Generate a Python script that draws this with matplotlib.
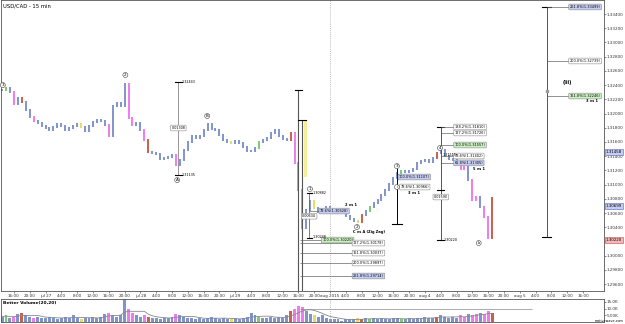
import matplotlib
matplotlib.use('Agg')
import matplotlib.pyplot as plt
import pandas as pd

matplotlib.rc('font', size=4)

# hourly bars, hours counted from the first day label
hours = list(range(-11, 114))
closes = [
    1.32331, 1.32359, 1.32303, 1.32134, 1.32218, 1.32162, 1.32049, 1.31951, 1.31895, 1.31866, 1.31824,
    1.31796, 1.31768, 1.31810, 1.31852, 1.31824, 1.31768, 1.31796, 1.31824, 1.31852, 1.31810, 1.31754,
    1.31824, 1.31880, 1.31909, 1.31895, 1.31838, 1.31683, 1.32106, 1.32148, 1.32106,
    1.32415, 1.31937, 1.31838, 1.31866,
    1.31768, 1.31627, 1.31458, 1.31444, 1.31430, 1.31360, 1.31374, 1.31388, 1.31416,
    1.31275, 1.31346, 1.31486, 1.31599, 1.31683, 1.31655, 1.31683, 1.31768,
    1.31852, 1.31782, 1.31768, 1.31698, 1.31627, 1.31599, 1.31585, 1.31613, 1.31585,
    1.31529, 1.31472, 1.31472, 1.31515, 1.31599, 1.31627, 1.31655, 1.31726, 1.31768,
    1.31683, 1.31641, 1.31627, 1.31726,
    1.31304, 1.30924, 1.30389, 1.30642,
    1.30769, 1.30670, 1.30614, 1.30656, 1.30685, 1.30642,
    1.30600, 1.30628, 1.30614, 1.30558, 1.30516, 1.30488, 1.30474, 1.30572,
    1.30628, 1.30685, 1.30741, 1.30783, 1.30853, 1.30924, 1.31008, 1.31093,
    1.31163, 1.31191, 1.31177, 1.31191, 1.31219, 1.31304, 1.31332, 1.31346, 1.31318, 1.31374, 1.31444, 1.31486,
    1.31402, 1.31360, 1.31346, 1.31304, 1.31219, 1.31247, 1.31064, 1.30783, 1.30825, 1.30685, 1.30544, 1.30248, 1.30811,
]
volume_k = [
    4, 5, 3, 4, 6, 7, 5, 4, 3, 4, 3,
    3, 4, 3, 2, 3, 4, 3, 5, 3, 2, 3,
    3, 4, 3, 4, 6, 7, 5, 4, 5,
    17, 10, 7, 5,
    4, 5, 4, 3, 3, 2, 3, 3, 4,
    6, 5, 4, 3, 3, 2, 3, 2,
    3, 4, 3, 2, 3, 2, 2, 3, 2,
    3, 4, 7, 5, 4, 3, 3, 4, 3,
    4, 3, 5, 8,
    10, 12, 11, 8,
    6, 5, 4, 5, 3, 2,
    2, 2, 1, 2, 2, 2, 3, 2, 3, 2, 3, 2, 3, 2, 2, 3,
    3, 2, 2, 3, 2, 3, 3, 4, 3, 3, 4, 5,
    4, 3, 4, 3, 5, 4, 6, 5, 6, 7, 6, 8, 7,
]
bar_codes = ("bgbpbrbbpbb" "bbbbbbbbbyb" "bbbbbpbbb" "bppb" "bprbbbbbb" "pbbbbbbb"
             "bbbbbbybb" "bbbbgbbbb" "bbbr" "pppb" "bybbbb" "bbbbbbyrbgbbbbbb"
             "bgbbbbbbbbrb" "bbbbppbppbppr")
palette = {'b': '#8094cc', 'p': '#f27af0', 'r': '#c8604c', 'g': '#7ccc6c', 'y': '#e6dc6a'}

day_labels = {0: 'jul 27', 24: 'jul 28', 48: 'jul 29', 72: 'aug 2015', 96: 'aug 4', 120: 'aug 5'}
price_ticks = [1.296 + 0.002 * i for i in range(20)]

fig = plt.figure(figsize=(6.25, 3.24), dpi=100)
ax = fig.add_axes([0.001, 1 - 291 / 324, 603 / 625, 291 / 324])
vax = fig.add_axes([0.001, 2 / 324, 603 / 625, 23 / 324])

# price bars
prev = closes[0]
for t, c, code in zip(hours, closes, bar_codes):
    lo, hi = min(prev, c) - 0.0002, max(prev, c) + 0.0002
    ax.vlines(t, lo, hi, colors=palette[code], lw=1.4)
    prev = c

ax.set_xlim(-11.36, 141.2)
ax.set_ylim(1.29503, 1.33597)
ax.yaxis.tick_right()
ax.set_yticks(price_ticks)
ax.set_yticklabels(['%.5f' % p for p in price_ticks])
xt = list(range(-8, 140, 4))
ax.set_xticks(xt)
ax.set_xticklabels([day_labels.get(t, '%d:00' % (t % 24)) for t in xt])
ax.tick_params(labelsize=3.0, length=1.2, width=0.4, pad=0.8, colors='#333333')
for s in ax.spines.values():
    s.set_linewidth(0.6)
    s.set_color('#555555')
ax.axvline(72, color='#aaaaaa', ls=(0, (1.5, 1.5)), lw=0.5)
ax.text(0.004, 0.988, 'USD/CAD - 15 min', transform=ax.transAxes, fontsize=3.8, va='top')

# helpers for the drawing tools
def cap(x, y, w=0.9):
    ax.plot([x - w, x + w], [y, y], color='k', lw=0.8)

def box(x, y, s, fc='white', ec='#888888'):
    ax.text(x, y, s, fontsize=2.5, va='center', ha='left',
            bbox=dict(boxstyle='round,pad=0.25', fc=fc, ec=ec, lw=0.4))

def circled(x, y, s, size=3.0):
    ax.text(x, y, s, fontsize=size, ha='center', va='center',
            bbox=dict(boxstyle='circle,pad=0.12', fc='white', ec='#444444', lw=0.4))

green, blue = '#c9f0c0', '#c6cdf2'

# A measurement
ax.vlines(33.6, 1.31135, 1.32443, color='#888888', lw=0.6)
cap(33.6, 1.32443); cap(33.6, 1.31135)
ax.text(34.3, 1.32443, '1.32443', fontsize=2.4, va='center')
ax.text(34.3, 1.31135, '1.31135', fontsize=2.4, va='center')
ax.text(33.6, 1.31796, '0.01308', fontsize=2.4, ha='center', va='center',
        bbox=dict(boxstyle='round,pad=0.25', fc='white', ec='#888888', lw=0.4))

# drop measurement + zigzag projection
ax.vlines(63.9, 1.29503, 1.32331, color='#555555', lw=0.8)
ax.vlines(64.9, 1.29503, 1.31909, color='#555555', lw=0.8)
cap(63.9, 1.32331); cap(64.9, 1.31909)
ax.add_patch(plt.Rectangle((65.3, 1.31107), 0.8, 0.00802, fc='#f6ef9a', ec='none'))
zz_levels = [(1.30220, '100.0%', green, 70.0), (1.30178, '127.2%', 'white', 77.8),
             (1.30037, '161.8%', 'white', 77.8), (1.29897, '200.0%', 'white', 77.8),
             (1.29714, '261.8%', blue, 77.8)]
for p, lvl, fc, xb in zz_levels:
    ax.hlines(p, 64.4, xb, color='#666666', lw=0.5)
    box(xb, p, '%s(%.5f)' % (lvl, p), fc=fc)
ax.text(77.8, 1.30330, 'C vs A (Zig Zag)', fontsize=2.6, fontweight='bold', va='center')

# wave 2 measurement
ax.vlines(66.7, 1.30248, 1.30882, color='#666666', lw=0.6)
cap(66.7, 1.30882, 0.6); cap(66.7, 1.30248, 0.6)
ax.text(67.6, 1.30882, '1.30882', fontsize=2.4, va='center')
ax.text(67.6, 1.30262, '1.30248', fontsize=2.4, va='center')
ax.text(66.7, 1.30555, '0.00634', fontsize=2.4, ha='center', va='center',
        bbox=dict(boxstyle='round,pad=0.25', fc='white', ec='#888888', lw=0.4))
ax.hlines(1.30628, 66.7, 69.4, color='#666666', lw=0.5)
box(69.4, 1.30628, '78.6%(1.30628)', fc=blue)
ax.text(75.8, 1.30710, '2 vs 1', fontsize=2.6, fontweight='bold', va='center')

# 3 vs 1
ax.vlines(88.9, 1.30445, 1.31233, color='k', lw=0.7)
cap(88.9, 1.30445, 1.2)
box(89.4, 1.31107, '100.0%(1.31107)', fc=blue)
box(89.8, 1.30966, '78.6%(1.30966)')
ax.text(91.7, 1.30882, '3 vs 1', fontsize=2.6, fontweight='bold', va='center')

# 5 vs 1
ax.vlines(100.0, 1.30220, 1.31810, color='#555555', lw=0.7)
cap(100.0, 1.31810); cap(100.0, 1.30924); cap(100.0, 1.30220)
for p, lvl, fc in [(1.31810, '138.2%', 'white'), (1.31726, '127.2%', 'white'),
                   (1.31557, '100.0%', green), (1.31402, '78.6%', 'white'),
                   (1.31305, '61.8%', blue)]:
    ax.hlines(p, 100.0, 103.5, color='#666666', lw=0.5)
    box(103.5, p, '%s(%.5f)' % (lvl, p), fc=fc)
ax.text(100.4, 1.31420, '1.31515', fontsize=2.4, va='center')
ax.text(100.0, 1.30825, '0.01590', fontsize=2.4, ha='center', va='center',
        bbox=dict(boxstyle='round,pad=0.25', fc='white', ec='#888888', lw=0.4))
ax.text(100.8, 1.30220, '1.30220', fontsize=2.4, va='center')
ax.text(108.2, 1.31219, '5 vs 1', fontsize=2.6, fontweight='bold', va='center')

# 3 vs 1 big projection
ax.vlines(126.8, 1.30262, 1.33499, color='#555555', lw=0.7)
cap(126.8, 1.33499, 1.2); cap(126.8, 1.30262, 1.2)
for p, lvl, fc in [(1.33499, '261.8%', blue), (1.32739, '200.0%', 'white'),
                   (1.32246, '161.8%', green)]:
    ax.hlines(p, 126.8, 132.6, color='#666666', lw=0.5)
    box(132.6, p, '%s(%.5f)' % (lvl, p), fc=fc)
ax.plot(126.8, 1.32316, 's', ms=1.6, color='#999999')
ax.text(136.7, 1.32170, '3 vs 1', fontsize=2.6, fontweight='bold', va='center')
ax.text(132.0, 1.32440, '(iii)', fontsize=3.4, fontweight='bold', ha='center', va='center')

# wave labels
circled(-10.8, 1.32400, '3')
circled(20.2, 1.32542, '2')
circled(33.3, 1.31064, 'A')
circled(40.9, 1.31965, 'B')
circled(66.9, 1.30938, '1')
circled(78.8, 1.30403, '2')
circled(88.9, 1.31260, '3')
circled(88.9, 1.30966, 'i', 2.4)
circled(99.8, 1.31515, '4')
circled(109.6, 1.30178, 'b', 2.6)

# price tags on the axis
for p, fc, ec in [(1.31458, blue, '#5566bb'), (1.30699, blue, '#5566bb'), (1.30220, '#f4b8b8', '#cc4444')]:
    ax.text(1.004, p, '%.5f' % p, transform=ax.get_yaxis_transform(), fontsize=2.9, zorder=5,
            va='center', ha='left', bbox=dict(boxstyle='square,pad=0.15', fc=fc, ec=ec, lw=0.4))

# volume panel
vol_ma = pd.Series(volume_k).rolling(6, min_periods=1).mean()
vax.bar(hours, volume_k, width=0.75, color=[palette[c] for c in bar_codes])
vax.plot(hours, vol_ma, color='#888888', lw=0.6)
vax.hlines(10, 64.4, 123.2, color='#888888', lw=0.5)
vax.axvline(72, color='#aaaaaa', ls=(0, (1.5, 1.5)), lw=0.5)
vax.set_xlim(-11.36, 141.2)
vax.set_ylim(0, 17.2)
vax.yaxis.tick_right()
vax.set_yticks([5, 10, 15])
vax.set_yticklabels(['5.00K', '10.0K', '15.0K'])
vax.set_xticks([])
vax.tick_params(labelsize=3.0, length=1.2, width=0.4, pad=0.8, colors='#333333')
for s in vax.spines.values():
    s.set_linewidth(0.6)
    s.set_color('#555555')
vax.text(0.004, 0.92, 'Better Volume(20,20)', transform=vax.transAxes, fontsize=3.2,
         fontweight='bold', va='top')
fig.text(0.998, 0.002, 'motivewave.com', fontsize=2.4, ha='right', va='bottom')

plt.savefig('out.png', dpi=100)
